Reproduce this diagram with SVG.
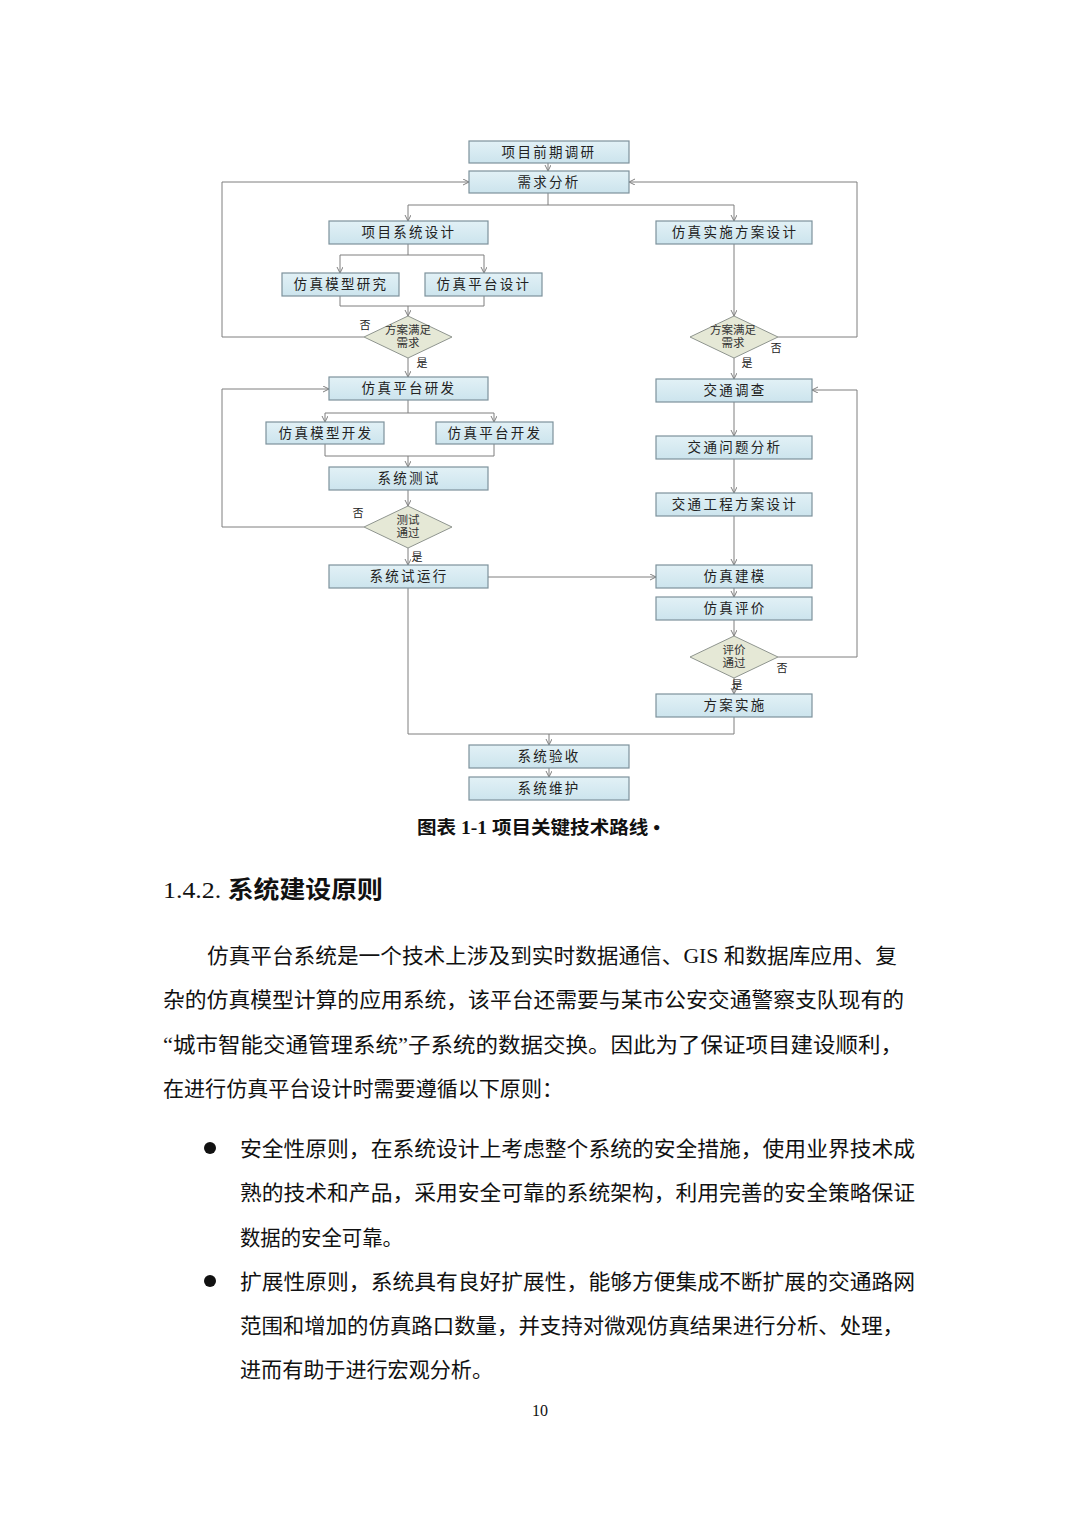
<svg xmlns="http://www.w3.org/2000/svg" width="1080" height="1528" viewBox="0 0 1080 1528">
<defs>
<linearGradient id="bg" x1="0" y1="0" x2="0" y2="1">
<stop offset="0" stop-color="#e2f1f6"/><stop offset="1" stop-color="#cce4ed"/>
</linearGradient>
<marker id="ar" markerWidth="8" markerHeight="8" refX="6" refY="3" orient="auto" markerUnits="userSpaceOnUse">
<path d="M0,0 L6,3 L0,6" fill="none" stroke="#7f7f7f" stroke-width="1"/>
</marker>
<style>
.bx{fill:url(#bg);stroke:#7d929c;stroke-width:1.2}
.dm{fill:#e5e8d6;stroke:#8f958f;stroke-width:1}
.t{font-family:"Liberation Serif","Noto Sans CJK SC",serif;font-size:13.5px;fill:#222;text-anchor:middle;letter-spacing:2.3px}
.td{font-family:"Liberation Serif","Noto Sans CJK SC",serif;font-size:11.5px;fill:#333;text-anchor:middle}
.lb{font-family:"Liberation Serif","Noto Sans CJK SC",serif;font-size:11px;fill:#222;text-anchor:middle}
.ln{fill:none;stroke:#7f7f7f;stroke-width:1}
.ar{marker-end:url(#ar)}
.body{font-family:"Liberation Serif","Noto Sans CJK SC",serif;font-size:21px;fill:#111}
</style>
</defs>
<rect width="1080" height="1528" fill="#fff"/>

<g id="connectors">
<path class="ln ar" d="M548,163 V171"/>
<path class="ln" d="M548,193 V205 M408,205 H734"/>
<path class="ln ar" d="M408,205 V221"/>
<path class="ln ar" d="M734,205 V221"/>
<path class="ln" d="M408,244 V255 M340,255 H484"/>
<path class="ln ar" d="M340,255 V273"/>
<path class="ln ar" d="M484,255 V273"/>
<path class="ln" d="M340,296 V306 H484 V296"/>
<path class="ln ar" d="M408,306 V316"/>
<path class="ln ar" d="M364,337 H222 V182 H469"/>
<path class="ln ar" d="M408,358 V377"/>
<path class="ln ar" d="M734,244 V316"/>
<path class="ln ar" d="M778,337 H857 V182 H629"/>
<path class="ln ar" d="M734,358 V379"/>
<path class="ln" d="M408,400 V413 M325,413 H494"/>
<path class="ln ar" d="M325,413 V422"/>
<path class="ln ar" d="M494,413 V422"/>
<path class="ln" d="M325,444 V456 H494 V444"/>
<path class="ln ar" d="M408,456 V467"/>
<path class="ln ar" d="M408,490 V506"/>
<path class="ln ar" d="M364,527 H222 V389 H329"/>
<path class="ln ar" d="M408,548 V565"/>
<path class="ln ar" d="M488,577 H656"/>
<path class="ln ar" d="M734,402 V436"/>
<path class="ln ar" d="M734,459 V493"/>
<path class="ln ar" d="M734,516 V565"/>
<path class="ln ar" d="M734,588 V597"/>
<path class="ln ar" d="M734,620 V636"/>
<path class="ln ar" d="M778,657 H857 V390 H812"/>
<path class="ln ar" d="M734,678 V694"/>
<path class="ln" d="M408,588 V734 H734 V717"/>
<path class="ln ar" d="M549,734 V745"/>
<path class="ln ar" d="M549,768 V777"/>
<text class="lb" x="365" y="329">否</text>
<text class="lb" x="422" y="367">是</text>
<text class="lb" x="776" y="352">否</text>
<text class="lb" x="747" y="367">是</text>
<text class="lb" x="358" y="517">否</text>
<text class="lb" x="417" y="561">是</text>
<text class="lb" x="782" y="672">否</text>
<text class="lb" x="737" y="689">是</text>
</g>

<g id="n1"><rect class="bx" x="469" y="141" width="160" height="22"/><text class="t" x="549" y="156.5">项目前期调研</text></g>
<g id="n2"><rect class="bx" x="469" y="171" width="160" height="22"/><text class="t" x="549" y="186.5">需求分析</text></g>
<g id="n3"><rect class="bx" x="329" y="221" width="159" height="23"/><text class="t" x="409" y="237">项目系统设计</text></g>
<g id="n4"><rect class="bx" x="656" y="221" width="156" height="23"/><text class="t" x="735" y="237">仿真实施方案设计</text></g>
<g id="n5"><rect class="bx" x="282" y="273" width="117" height="23"/><text class="t" x="341" y="289">仿真模型研究</text></g>
<g id="n6"><rect class="bx" x="425" y="273" width="117" height="23"/><text class="t" x="484" y="289">仿真平台设计</text></g>
<g id="d1"><polygon class="dm" points="408,316 452,337 408,358 364,337"/><text class="td" x="408" y="334">方案满足</text><text class="td" x="408" y="347">需求</text></g>
<g id="d2"><polygon class="dm" points="734,316 778,337 734,358 690,337"/><text class="td" x="733" y="334">方案满足</text><text class="td" x="733" y="347">需求</text></g>
<g id="n7"><rect class="bx" x="329" y="377" width="159" height="23"/><text class="t" x="409" y="393">仿真平台研发</text></g>
<g id="n8"><rect class="bx" x="266" y="422" width="118" height="22"/><text class="t" x="326" y="437.5">仿真模型开发</text></g>
<g id="n9"><rect class="bx" x="436" y="422" width="117" height="22"/><text class="t" x="495" y="437.5">仿真平台开发</text></g>
<g id="n10"><rect class="bx" x="329" y="467" width="159" height="23"/><text class="t" x="409" y="483">系统测试</text></g>
<g id="d3"><polygon class="dm" points="408,506 452,527 408,548 364,527"/><text class="td" x="408" y="524">测试</text><text class="td" x="408" y="537">通过</text></g>
<g id="n11"><rect class="bx" x="329" y="565" width="159" height="23"/><text class="t" x="409" y="581">系统试运行</text></g>
<g id="n12"><rect class="bx" x="656" y="379" width="156" height="23"/><text class="t" x="735" y="395">交通调查</text></g>
<g id="n13"><rect class="bx" x="656" y="436" width="156" height="23"/><text class="t" x="735" y="452">交通问题分析</text></g>
<g id="n14"><rect class="bx" x="656" y="493" width="156" height="23"/><text class="t" x="735" y="509">交通工程方案设计</text></g>
<g id="n15"><rect class="bx" x="656" y="565" width="156" height="23"/><text class="t" x="735" y="581">仿真建模</text></g>
<g id="n16"><rect class="bx" x="656" y="597" width="156" height="23"/><text class="t" x="735" y="613">仿真评价</text></g>
<g id="d4"><polygon class="dm" points="734,636 778,657 734,678 690,657"/><text class="td" x="734" y="654">评价</text><text class="td" x="734" y="667">通过</text></g>
<g id="n17"><rect class="bx" x="656" y="694" width="156" height="23"/><text class="t" x="735" y="710">方案实施</text></g>
<g id="n18"><rect class="bx" x="469" y="745" width="160" height="23"/><text class="t" x="549" y="761">系统验收</text></g>
<g id="n19"><rect class="bx" x="469" y="777" width="160" height="23"/><text class="t" x="549" y="793">系统维护</text></g>

<g id="page-text">
<text x="417" y="834" font-family="Liberation Serif,'Noto Sans CJK SC',serif" font-size="18" font-weight="bold" fill="#111" textLength="243" lengthAdjust="spacingAndGlyphs">图表 1-1 项目关键技术路线 •</text>
<text x="163" y="898" font-family="Liberation Serif,'Noto Sans CJK SC',serif" font-size="24" fill="#111" textLength="220" lengthAdjust="spacingAndGlyphs">1.4.2. <tspan font-weight="600">系统建设原则</tspan></text>
<text class="body" x="207" y="963" textLength="690" lengthAdjust="spacingAndGlyphs">仿真平台系统是一个技术上涉及到实时数据通信、GIS 和数据库应用、复</text>
<text class="body" x="163" y="1007" textLength="741" lengthAdjust="spacingAndGlyphs">杂的仿真模型计算的应用系统，该平台还需要与某市公安交通警察支队现有的</text>
<text class="body" x="163" y="1052" textLength="740" lengthAdjust="spacingAndGlyphs">“城市智能交通管理系统”子系统的数据交换。因此为了保证项目建设顺利，</text>
<text class="body" x="163" y="1096" textLength="400" lengthAdjust="spacingAndGlyphs">在进行仿真平台设计时需要遵循以下原则：</text>
<circle cx="210" cy="1148" r="6" fill="#111"/>
<text class="body" x="240" y="1156" textLength="675" lengthAdjust="spacingAndGlyphs">安全性原则，在系统设计上考虑整个系统的安全措施，使用业界技术成</text>
<text class="body" x="240" y="1200" textLength="675" lengthAdjust="spacingAndGlyphs">熟的技术和产品，采用安全可靠的系统架构，利用完善的安全策略保证</text>
<text class="body" x="240" y="1245" textLength="163" lengthAdjust="spacingAndGlyphs">数据的安全可靠。</text>
<circle cx="210" cy="1281" r="6" fill="#111"/>
<text class="body" x="240" y="1289" textLength="675" lengthAdjust="spacingAndGlyphs">扩展性原则，系统具有良好扩展性，能够方便集成不断扩展的交通路网</text>
<text class="body" x="240" y="1333" textLength="664" lengthAdjust="spacingAndGlyphs">范围和增加的仿真路口数量，并支持对微观仿真结果进行分析、处理，</text>
<text class="body" x="240" y="1377" textLength="253" lengthAdjust="spacingAndGlyphs">进而有助于进行宏观分析。</text>
<text x="540" y="1416" text-anchor="middle" font-family="Liberation Serif,serif" font-size="16" fill="#111">10</text>
</g>
</svg>
